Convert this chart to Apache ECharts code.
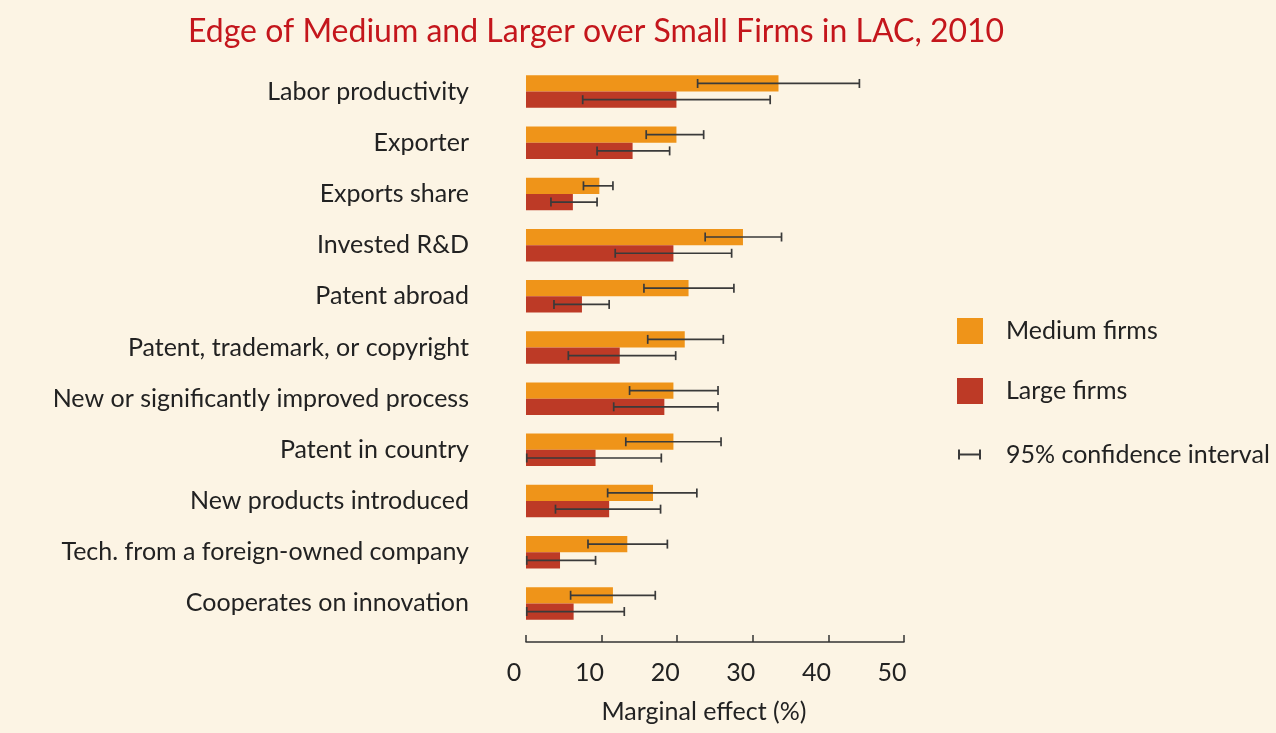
<!DOCTYPE html>
<html>
<head>
<meta charset="utf-8">
<script src="https://cdn.jsdelivr.net/npm/echarts@6/dist/echarts.min.js"></script>
<style>
  html, body { margin: 0; padding: 0; background: #fcf4e4; }
  #main { width: 1276px; height: 733px; }
</style>
</head>
<body>
<div id="main"></div>
<script>
// categories, top to bottom
var categories = [
  'Labor productivity', 'Exporter', 'Exports share', 'Invested R&D', 'Patent abroad',
  'Patent, trademark, or copyright', 'New or significantly improved process',
  'Patent in country', 'New products introduced', 'Tech. from a foreign-owned company',
  'Cooperates on innovation'
];
// marginal effects (%)
var mediumVals = [33.4, 19.9, 9.7, 28.7, 21.5, 21.0, 19.5, 19.5, 16.8, 13.4, 11.5];
var largeVals  = [19.9, 14.1, 6.2, 19.5, 7.4, 12.4, 18.3, 9.2, 11.0, 4.5, 6.3];
// 95% confidence intervals
var mediumLow  = [22.7, 15.9, 7.6, 23.7, 15.6, 16.1, 13.7, 13.2, 10.8, 8.2, 5.9];
var mediumHigh = [44.1, 23.5, 11.5, 33.8, 27.5, 26.1, 25.4, 25.8, 22.6, 18.7, 17.1];
var largeLow   = [7.5, 9.4, 3.3, 11.8, 3.7, 5.6, 11.6, 0.1, 3.9, 0.1, 0.1];
var largeHigh  = [32.3, 19.0, 9.4, 27.2, 11.0, 19.8, 25.4, 17.9, 17.8, 9.2, 13.0];

var xTicks = [0, 10, 20, 30, 40, 50];

var gapPct = 0.365;
var ciData = [];
for (var i = 0; i < categories.length; i++) {
  ciData.push([i, mediumLow[i], mediumHigh[i], 0]);
  ciData.push([i, largeLow[i], largeHigh[i], 1]);
}

var myChart = echarts.init(document.getElementById('main'));
var font = 'Lato, "Open Sans", sans-serif';

myChart.setOption({
  backgroundColor: '#fcf4e4',
  textStyle: { fontFamily: font },
  title: {
    text: 'Edge of Medium and Larger over Small Firms in LAC, 2010',
    left: 183,
    top: 11,
    textStyle: { color: '#c4161c', fontSize: 32, fontWeight: 'normal', fontFamily: font }
  },
  legend: [{
    orient: 'vertical',
    left: 952,
    top: 313,
    itemWidth: 26,
    itemHeight: 26,
    itemGap: 34,
    icon: 'rect',
    data: ['Medium firms', 'Large firms'],
    textStyle: { fontSize: 25, color: '#222', padding: [0, 0, 0, 18], fontFamily: font }
  }, {
    orient: 'vertical',
    left: 953,
    top: 437,
    itemWidth: 23,
    itemHeight: 10,
    data: [{
      name: '95% confidence interval',
      icon: 'path://M0,0h2v10h-2z M2,4h19v2h-19z M21,0h2v10h-2z'
    }],
    textStyle: { fontSize: 25, color: '#222', padding: [0, 0, 0, 20], fontFamily: font }
  }],
  grid: { left: 526, right: 372, top: 66, bottom: 104 },
  xAxis: {
    type: 'value',
    min: 0,
    max: 50,
    interval: 10,
    offset: 13,
    name: 'Marginal effect (%)',
    nameLocation: 'middle',
    nameGap: 57,
    nameTextStyle: { fontSize: 25, color: '#222', padding: [0, 22, 0, 0], fontFamily: font },
    axisLine: { show: true, lineStyle: { color: '#333', width: 1.5 } },
    axisTick: { show: true, inside: true, length: 7, lineStyle: { color: '#333', width: 1.5 } },
    axisLabel: {
      fontSize: 25, color: '#222', margin: 18, padding: [0, 24, 0, 0], fontFamily: font,
      formatter: function (v) { return xTicks.indexOf(v) >= 0 ? String(v) : ''; }
    },
    splitLine: { show: false }
  },
  yAxis: {
    type: 'category',
    inverse: true,
    data: categories,
    axisLine: { show: false },
    axisTick: { show: false },
    axisLabel: { fontSize: 25, color: '#222', margin: 57, fontFamily: font }
  },
  series: [{
    name: 'Medium firms',
    type: 'bar',
    data: mediumVals,
    barGap: 0,
    barCategoryGap: (gapPct * 100) + '%',
    itemStyle: { color: '#ef9419' },
    silent: true
  }, {
    name: 'Large firms',
    type: 'bar',
    data: largeVals,
    barGap: 0,
    barCategoryGap: (gapPct * 100) + '%',
    itemStyle: { color: '#bd3a26' },
    silent: true
  }, {
    name: '95% confidence interval',
    type: 'custom',
    itemStyle: { color: '#3a3a3a' },
    encode: { x: [1, 2], y: 0 },
    data: ciData,
    z: 10,
    silent: true,
    renderItem: function (params, api) {
      var ci = api.value(0);
      var s = api.value(3);
      var p1 = api.coord([api.value(1), ci]);
      var p2 = api.coord([api.value(2), ci]);
      var band = api.size([0, 1])[1];
      var bw = band * (1 - gapPct) / 2;
      var y = p1[1] + (s === 0 ? -bw / 2 : bw / 2);
      var st = { stroke: '#3a3a3a', lineWidth: 1.7 };
      var cap = 4.5;
      return {
        type: 'group',
        children: [
          { type: 'line', shape: { x1: p1[0], y1: y, x2: p2[0], y2: y }, style: st },
          { type: 'line', shape: { x1: p1[0], y1: y - cap, x2: p1[0], y2: y + cap }, style: st },
          { type: 'line', shape: { x1: p2[0], y1: y - cap, x2: p2[0], y2: y + cap }, style: st }
        ]
      };
    }
  }]
});
</script>
</body>
</html>
